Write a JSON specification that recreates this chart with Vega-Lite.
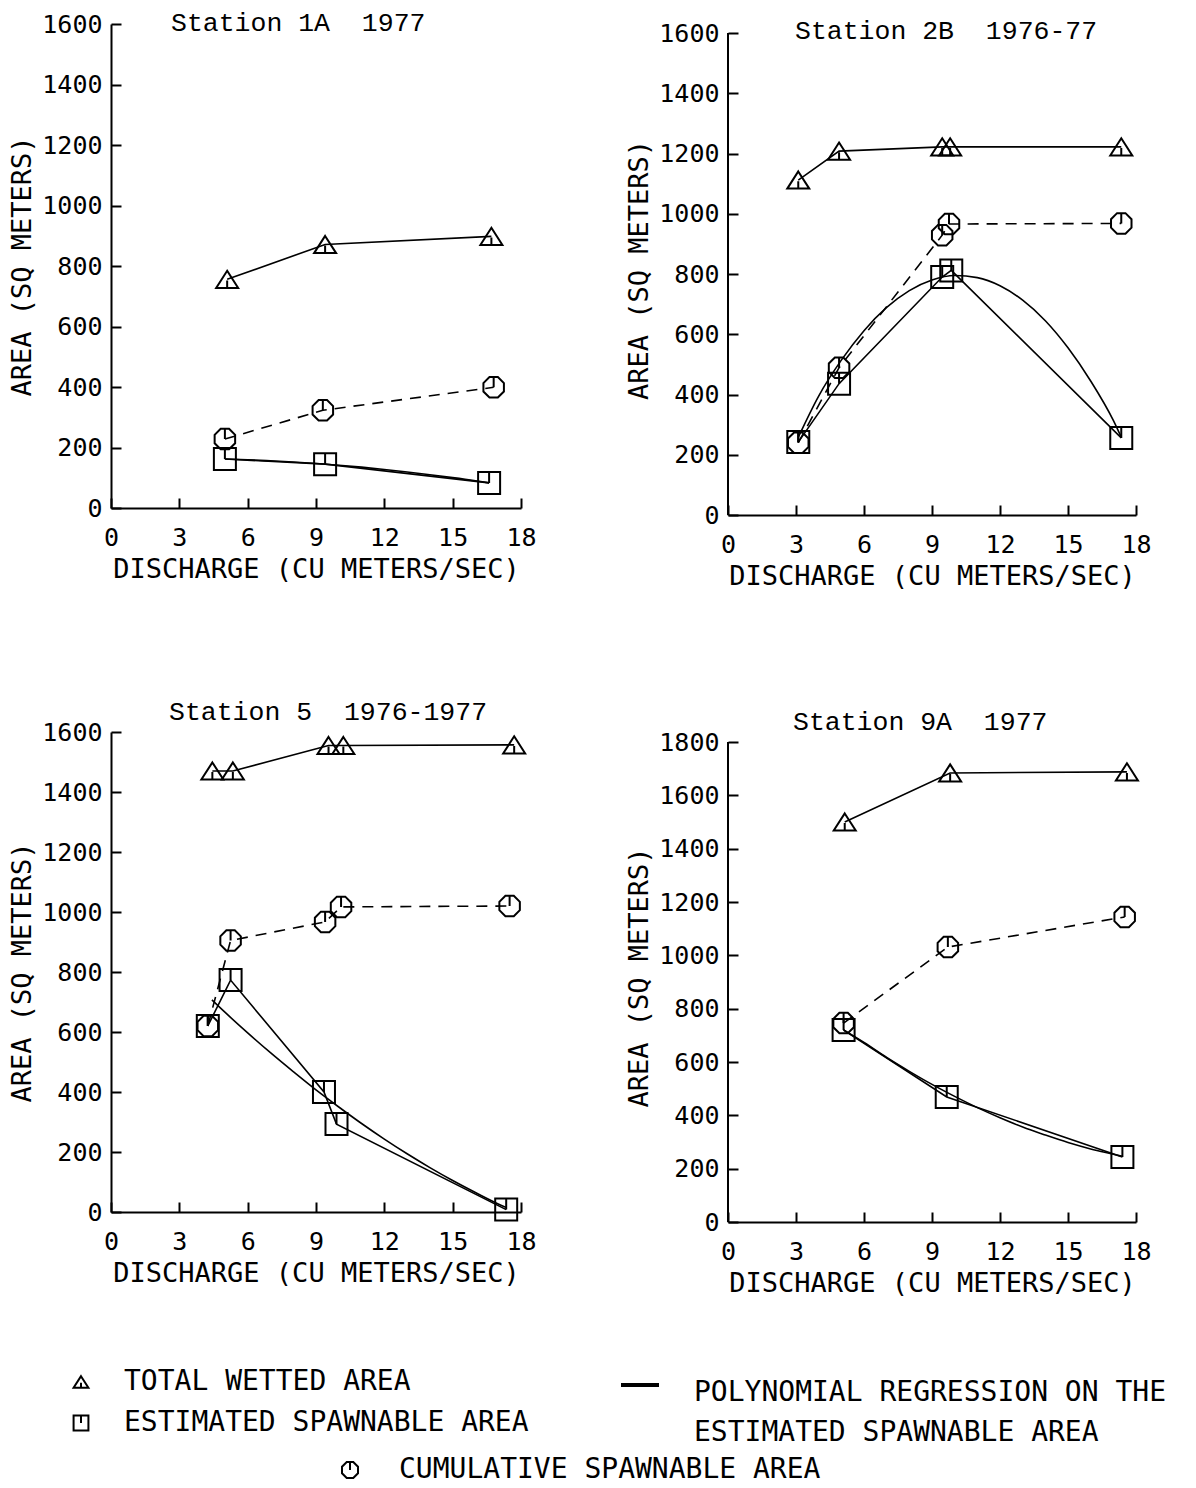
{
  "$schema": "https://vega.github.io/schema/vega-lite/v6.json",
  "padding": {"left": 8, "top": 9, "right": 5, "bottom": 4},
  "background": "white",
  "datasets": {
    "d": [
      {"p": "1A", "s": "TOTAL WETTED AREA", "x": 5.1, "y": 756},
      {"p": "1A", "s": "TOTAL WETTED AREA", "x": 9.4, "y": 871},
      {"p": "1A", "s": "TOTAL WETTED AREA", "x": 16.7, "y": 898},
      {"p": "1A", "s": "CUMULATIVE SPAWNABLE AREA", "x": 5.0, "y": 228},
      {"p": "1A", "s": "CUMULATIVE SPAWNABLE AREA", "x": 9.3, "y": 323},
      {"p": "1A", "s": "CUMULATIVE SPAWNABLE AREA", "x": 16.8, "y": 399},
      {"p": "1A", "s": "ESTIMATED SPAWNABLE AREA", "x": 5.0, "y": 162},
      {"p": "1A", "s": "ESTIMATED SPAWNABLE AREA", "x": 9.4, "y": 145},
      {"p": "1A", "s": "ESTIMATED SPAWNABLE AREA", "x": 16.6, "y": 83},
      {"p": "1A", "s": "POLYNOMIAL REGRESSION ON THE ESTIMATED SPAWNABLE AREA", "x": 5.0, "y": 162},
      {"p": "1A", "s": "POLYNOMIAL REGRESSION ON THE ESTIMATED SPAWNABLE AREA", "x": 6, "y": 159.5},
      {"p": "1A", "s": "POLYNOMIAL REGRESSION ON THE ESTIMATED SPAWNABLE AREA", "x": 7, "y": 156},
      {"p": "1A", "s": "POLYNOMIAL REGRESSION ON THE ESTIMATED SPAWNABLE AREA", "x": 8, "y": 152},
      {"p": "1A", "s": "POLYNOMIAL REGRESSION ON THE ESTIMATED SPAWNABLE AREA", "x": 9, "y": 147},
      {"p": "1A", "s": "POLYNOMIAL REGRESSION ON THE ESTIMATED SPAWNABLE AREA", "x": 10, "y": 141.5},
      {"p": "1A", "s": "POLYNOMIAL REGRESSION ON THE ESTIMATED SPAWNABLE AREA", "x": 11, "y": 135},
      {"p": "1A", "s": "POLYNOMIAL REGRESSION ON THE ESTIMATED SPAWNABLE AREA", "x": 12, "y": 127.5},
      {"p": "1A", "s": "POLYNOMIAL REGRESSION ON THE ESTIMATED SPAWNABLE AREA", "x": 13, "y": 119},
      {"p": "1A", "s": "POLYNOMIAL REGRESSION ON THE ESTIMATED SPAWNABLE AREA", "x": 14, "y": 110},
      {"p": "1A", "s": "POLYNOMIAL REGRESSION ON THE ESTIMATED SPAWNABLE AREA", "x": 15, "y": 100.5},
      {"p": "1A", "s": "POLYNOMIAL REGRESSION ON THE ESTIMATED SPAWNABLE AREA", "x": 16, "y": 90},
      {"p": "1A", "s": "POLYNOMIAL REGRESSION ON THE ESTIMATED SPAWNABLE AREA", "x": 16.6, "y": 83},

      {"p": "2B", "s": "TOTAL WETTED AREA", "x": 3.1, "y": 1112},
      {"p": "2B", "s": "TOTAL WETTED AREA", "x": 4.9, "y": 1208},
      {"p": "2B", "s": "TOTAL WETTED AREA", "x": 9.45, "y": 1222},
      {"p": "2B", "s": "TOTAL WETTED AREA", "x": 9.8, "y": 1222},
      {"p": "2B", "s": "TOTAL WETTED AREA", "x": 17.35, "y": 1222},
      {"p": "2B", "s": "CUMULATIVE SPAWNABLE AREA", "x": 3.1, "y": 240},
      {"p": "2B", "s": "CUMULATIVE SPAWNABLE AREA", "x": 4.9, "y": 489},
      {"p": "2B", "s": "CUMULATIVE SPAWNABLE AREA", "x": 9.45, "y": 929},
      {"p": "2B", "s": "CUMULATIVE SPAWNABLE AREA", "x": 9.75, "y": 966},
      {"p": "2B", "s": "CUMULATIVE SPAWNABLE AREA", "x": 17.35, "y": 968},
      {"p": "2B", "s": "ESTIMATED SPAWNABLE AREA", "x": 3.1, "y": 242},
      {"p": "2B", "s": "ESTIMATED SPAWNABLE AREA", "x": 4.9, "y": 436},
      {"p": "2B", "s": "ESTIMATED SPAWNABLE AREA", "x": 9.45, "y": 790},
      {"p": "2B", "s": "ESTIMATED SPAWNABLE AREA", "x": 9.85, "y": 812},
      {"p": "2B", "s": "ESTIMATED SPAWNABLE AREA", "x": 17.35, "y": 256},
      {"p": "2B", "s": "POLYNOMIAL REGRESSION ON THE ESTIMATED SPAWNABLE AREA", "x": 3.1, "y": 258},
      {"p": "2B", "s": "POLYNOMIAL REGRESSION ON THE ESTIMATED SPAWNABLE AREA", "x": 4, "y": 395},
      {"p": "2B", "s": "POLYNOMIAL REGRESSION ON THE ESTIMATED SPAWNABLE AREA", "x": 5, "y": 514},
      {"p": "2B", "s": "POLYNOMIAL REGRESSION ON THE ESTIMATED SPAWNABLE AREA", "x": 6, "y": 612},
      {"p": "2B", "s": "POLYNOMIAL REGRESSION ON THE ESTIMATED SPAWNABLE AREA", "x": 7, "y": 689},
      {"p": "2B", "s": "POLYNOMIAL REGRESSION ON THE ESTIMATED SPAWNABLE AREA", "x": 8, "y": 745},
      {"p": "2B", "s": "POLYNOMIAL REGRESSION ON THE ESTIMATED SPAWNABLE AREA", "x": 9, "y": 780},
      {"p": "2B", "s": "POLYNOMIAL REGRESSION ON THE ESTIMATED SPAWNABLE AREA", "x": 10, "y": 795},
      {"p": "2B", "s": "POLYNOMIAL REGRESSION ON THE ESTIMATED SPAWNABLE AREA", "x": 11, "y": 788},
      {"p": "2B", "s": "POLYNOMIAL REGRESSION ON THE ESTIMATED SPAWNABLE AREA", "x": 12, "y": 761},
      {"p": "2B", "s": "POLYNOMIAL REGRESSION ON THE ESTIMATED SPAWNABLE AREA", "x": 13, "y": 713},
      {"p": "2B", "s": "POLYNOMIAL REGRESSION ON THE ESTIMATED SPAWNABLE AREA", "x": 14, "y": 645},
      {"p": "2B", "s": "POLYNOMIAL REGRESSION ON THE ESTIMATED SPAWNABLE AREA", "x": 15, "y": 555},
      {"p": "2B", "s": "POLYNOMIAL REGRESSION ON THE ESTIMATED SPAWNABLE AREA", "x": 16, "y": 445},
      {"p": "2B", "s": "POLYNOMIAL REGRESSION ON THE ESTIMATED SPAWNABLE AREA", "x": 17, "y": 314},
      {"p": "2B", "s": "POLYNOMIAL REGRESSION ON THE ESTIMATED SPAWNABLE AREA", "x": 17.35, "y": 258},

      {"p": "5", "s": "TOTAL WETTED AREA", "x": 4.45, "y": 1470},
      {"p": "5", "s": "TOTAL WETTED AREA", "x": 5.35, "y": 1470},
      {"p": "5", "s": "TOTAL WETTED AREA", "x": 9.55, "y": 1555},
      {"p": "5", "s": "TOTAL WETTED AREA", "x": 10.2, "y": 1555},
      {"p": "5", "s": "TOTAL WETTED AREA", "x": 17.7, "y": 1557},
      {"p": "5", "s": "CUMULATIVE SPAWNABLE AREA", "x": 4.25, "y": 620},
      {"p": "5", "s": "CUMULATIVE SPAWNABLE AREA", "x": 5.25, "y": 905},
      {"p": "5", "s": "CUMULATIVE SPAWNABLE AREA", "x": 9.4, "y": 967},
      {"p": "5", "s": "CUMULATIVE SPAWNABLE AREA", "x": 10.1, "y": 1017},
      {"p": "5", "s": "CUMULATIVE SPAWNABLE AREA", "x": 17.5, "y": 1020},
      {"p": "5", "s": "ESTIMATED SPAWNABLE AREA", "x": 4.25, "y": 620},
      {"p": "5", "s": "ESTIMATED SPAWNABLE AREA", "x": 5.25, "y": 773},
      {"p": "5", "s": "ESTIMATED SPAWNABLE AREA", "x": 9.35, "y": 400},
      {"p": "5", "s": "ESTIMATED SPAWNABLE AREA", "x": 9.9, "y": 293},
      {"p": "5", "s": "ESTIMATED SPAWNABLE AREA", "x": 17.35, "y": 8},
      {"p": "5", "s": "POLYNOMIAL REGRESSION ON THE ESTIMATED SPAWNABLE AREA", "x": 4.43, "y": 707},
      {"p": "5", "s": "POLYNOMIAL REGRESSION ON THE ESTIMATED SPAWNABLE AREA", "x": 5, "y": 666},
      {"p": "5", "s": "POLYNOMIAL REGRESSION ON THE ESTIMATED SPAWNABLE AREA", "x": 6, "y": 597},
      {"p": "5", "s": "POLYNOMIAL REGRESSION ON THE ESTIMATED SPAWNABLE AREA", "x": 7, "y": 531},
      {"p": "5", "s": "POLYNOMIAL REGRESSION ON THE ESTIMATED SPAWNABLE AREA", "x": 8, "y": 468},
      {"p": "5", "s": "POLYNOMIAL REGRESSION ON THE ESTIMATED SPAWNABLE AREA", "x": 9, "y": 407},
      {"p": "5", "s": "POLYNOMIAL REGRESSION ON THE ESTIMATED SPAWNABLE AREA", "x": 10, "y": 350},
      {"p": "5", "s": "POLYNOMIAL REGRESSION ON THE ESTIMATED SPAWNABLE AREA", "x": 11, "y": 295},
      {"p": "5", "s": "POLYNOMIAL REGRESSION ON THE ESTIMATED SPAWNABLE AREA", "x": 12, "y": 243},
      {"p": "5", "s": "POLYNOMIAL REGRESSION ON THE ESTIMATED SPAWNABLE AREA", "x": 13, "y": 194},
      {"p": "5", "s": "POLYNOMIAL REGRESSION ON THE ESTIMATED SPAWNABLE AREA", "x": 14, "y": 148},
      {"p": "5", "s": "POLYNOMIAL REGRESSION ON THE ESTIMATED SPAWNABLE AREA", "x": 15, "y": 105},
      {"p": "5", "s": "POLYNOMIAL REGRESSION ON THE ESTIMATED SPAWNABLE AREA", "x": 16, "y": 65},
      {"p": "5", "s": "POLYNOMIAL REGRESSION ON THE ESTIMATED SPAWNABLE AREA", "x": 17, "y": 27},
      {"p": "5", "s": "POLYNOMIAL REGRESSION ON THE ESTIMATED SPAWNABLE AREA", "x": 17.35, "y": 15},

      {"p": "9A", "s": "TOTAL WETTED AREA", "x": 5.15, "y": 1500},
      {"p": "9A", "s": "TOTAL WETTED AREA", "x": 9.8, "y": 1684},
      {"p": "9A", "s": "TOTAL WETTED AREA", "x": 17.6, "y": 1688},
      {"p": "9A", "s": "CUMULATIVE SPAWNABLE AREA", "x": 5.1, "y": 746},
      {"p": "9A", "s": "CUMULATIVE SPAWNABLE AREA", "x": 9.7, "y": 1031},
      {"p": "9A", "s": "CUMULATIVE SPAWNABLE AREA", "x": 17.5, "y": 1144},
      {"p": "9A", "s": "ESTIMATED SPAWNABLE AREA", "x": 5.1, "y": 720},
      {"p": "9A", "s": "ESTIMATED SPAWNABLE AREA", "x": 9.65, "y": 469},
      {"p": "9A", "s": "ESTIMATED SPAWNABLE AREA", "x": 17.4, "y": 244},
      {"p": "9A", "s": "POLYNOMIAL REGRESSION ON THE ESTIMATED SPAWNABLE AREA", "x": 5.1, "y": 720},
      {"p": "9A", "s": "POLYNOMIAL REGRESSION ON THE ESTIMATED SPAWNABLE AREA", "x": 6, "y": 673},
      {"p": "9A", "s": "POLYNOMIAL REGRESSION ON THE ESTIMATED SPAWNABLE AREA", "x": 7, "y": 617},
      {"p": "9A", "s": "POLYNOMIAL REGRESSION ON THE ESTIMATED SPAWNABLE AREA", "x": 8, "y": 565},
      {"p": "9A", "s": "POLYNOMIAL REGRESSION ON THE ESTIMATED SPAWNABLE AREA", "x": 9, "y": 516},
      {"p": "9A", "s": "POLYNOMIAL REGRESSION ON THE ESTIMATED SPAWNABLE AREA", "x": 10, "y": 471},
      {"p": "9A", "s": "POLYNOMIAL REGRESSION ON THE ESTIMATED SPAWNABLE AREA", "x": 11, "y": 429},
      {"p": "9A", "s": "POLYNOMIAL REGRESSION ON THE ESTIMATED SPAWNABLE AREA", "x": 12, "y": 391},
      {"p": "9A", "s": "POLYNOMIAL REGRESSION ON THE ESTIMATED SPAWNABLE AREA", "x": 13, "y": 356},
      {"p": "9A", "s": "POLYNOMIAL REGRESSION ON THE ESTIMATED SPAWNABLE AREA", "x": 14, "y": 326},
      {"p": "9A", "s": "POLYNOMIAL REGRESSION ON THE ESTIMATED SPAWNABLE AREA", "x": 15, "y": 298},
      {"p": "9A", "s": "POLYNOMIAL REGRESSION ON THE ESTIMATED SPAWNABLE AREA", "x": 16, "y": 274},
      {"p": "9A", "s": "POLYNOMIAL REGRESSION ON THE ESTIMATED SPAWNABLE AREA", "x": 17, "y": 254},
      {"p": "9A", "s": "POLYNOMIAL REGRESSION ON THE ESTIMATED SPAWNABLE AREA", "x": 17.4, "y": 246}
    ]
  },
  "data": {"name": "d"},
  "columns": 2,
  "spacing": {"row": 217, "column": 207},
  "bounds": "flush",
  "concat": [
    {
      "width": 410, "height": 484,
      "title": {"text": "Station 1A\u00a0 1977", "dx": 60, "offset": -24},
      "transform": [{"filter": "datum.p === '1A'"}],
      "encoding": {
        "x": {"field": "x", "type": "quantitative", "scale": {"domain": [0, 18], "nice": false, "zero": false}, "axis": {"values": [0, 3, 6, 9, 12, 15, 18], "title": "DISCHARGE (CU METERS/SEC)"}},
        "y": {"field": "y", "type": "quantitative", "scale": {"domain": [0, 1600], "nice": false}, "axis": {"values": [0, 200, 400, 600, 800, 1000, 1200, 1400, 1600], "title": "AREA (SQ METERS)"}}
      },
      "layer": [
        {"transform": [{"filter": "datum.s === 'TOTAL WETTED AREA'"}], "mark": {"type": "line", "color": "black", "strokeWidth": 1.6}},
        {"transform": [{"filter": "datum.s === 'ESTIMATED SPAWNABLE AREA'"}], "mark": {"type": "line", "color": "black", "strokeWidth": 1.6}},
        {"transform": [{"filter": "datum.s === 'CUMULATIVE SPAWNABLE AREA'"}], "mark": {"type": "line", "color": "black", "strokeWidth": 1.6, "strokeDash": [11, 8]}},
        {"transform": [{"filter": "datum.s === 'POLYNOMIAL REGRESSION ON THE ESTIMATED SPAWNABLE AREA'"}], "mark": {"type": "line", "strokeWidth": 1.6, "interpolate": "monotone"},
         "encoding": {"color": {"field": "s", "type": "nominal", "scale": {"domain": ["POLYNOMIAL REGRESSION ON THE ESTIMATED SPAWNABLE AREA"], "range": ["black"]},
           "legend": {"orient": "none", "legendX": 508, "legendY": 1340, "title": null, "symbolType": "stroke", "symbolSize": 1444, "symbolStrokeWidth": 4, "symbolStrokeColor": "black", "labelOffset": 33, "labelBaseline": "top",
             "labelExpr": "['POLYNOMIAL REGRESSION ON THE', 'ESTIMATED SPAWNABLE AREA']",
             "encode": {"labels": {"update": {"lineHeight": {"value": 40}, "dy": {"value": -6}}}}}}}},
        {"transform": [{"filter": "datum.s === 'TOTAL WETTED AREA' || datum.s === 'ESTIMATED SPAWNABLE AREA'"}], "mark": {"type": "point", "filled": false, "color": "black", "strokeWidth": 2, "size": 484, "opacity": 1},
         "encoding": {"shape": {"field": "s", "type": "nominal", "scale": {"domain": ["TOTAL WETTED AREA", "ESTIMATED SPAWNABLE AREA"], "range": ["M0,-0.78L1,0.78L-1,0.78Z M0,0.78L0,0.1", "M-1,-1L1,-1L1,1L-1,1Z M0,-1L0,0"]},
           "legend": {"orient": "none", "legendX": -44, "legendY": 1344, "title": null, "symbolSize": 220, "symbolStrokeWidth": 2, "symbolStrokeColor": "black", "symbolFillColor": "transparent", "labelOffset": 29, "rowPadding": 13}}}},
        {"transform": [{"filter": "datum.s === 'CUMULATIVE SPAWNABLE AREA'"}], "mark": {"type": "point", "filled": false, "shape": "M-0.41,-1L0.41,-1L1,-0.41L1,0.41L0.41,1L-0.41,1L-1,0.41L-1,-0.41Z M0,-1L0,0", "strokeWidth": 2, "size": 420, "opacity": 1},
         "encoding": {"stroke": {"field": "s", "type": "nominal", "scale": {"domain": ["CUMULATIVE SPAWNABLE AREA"], "range": ["black"]},
           "legend": {"orient": "none", "legendX": 225, "legendY": 1432, "title": null, "symbolType": "M-0.41,-1L0.41,-1L1,-0.41L1,0.41L0.41,1L-0.41,1L-1,0.41L-1,-0.41Z M0,-1L0,0", "symbolSize": 256, "symbolStrokeWidth": 2, "symbolStrokeColor": "black", "symbolFillColor": "transparent", "labelOffset": 35}}}}
      ]
    },
    {
      "width": 408, "height": 491,
      "title": {"text": "Station 2B\u00a0 1976-77", "dx": 67, "offset": -23},
      "transform": [{"filter": "datum.p === '2B'"}],
      "encoding": {
        "x": {"field": "x", "type": "quantitative", "scale": {"domain": [0, 18], "nice": false, "zero": false}, "axis": {"values": [0, 3, 6, 9, 12, 15, 18], "title": "DISCHARGE (CU METERS/SEC)"}},
        "y": {"field": "y", "type": "quantitative", "scale": {"domain": [0, 1630], "nice": false}, "axis": {"values": [0, 200, 400, 600, 800, 1000, 1200, 1400, 1600], "title": "AREA (SQ METERS)", "domain": false}}
      },
      "layer": [
        {"transform": [{"filter": "datum.s === 'TOTAL WETTED AREA' && datum.x === 3.1"}], "mark": {"type": "rule", "color": "black", "strokeWidth": 2}, "encoding": {"x": {"datum": 0, "type": "quantitative"}, "y": {"datum": 0, "type": "quantitative"}, "y2": {"datum": 1600}}},
        {"transform": [{"filter": "datum.s === 'TOTAL WETTED AREA'"}], "mark": {"type": "line", "color": "black", "strokeWidth": 1.6}},
        {"transform": [{"filter": "datum.s === 'ESTIMATED SPAWNABLE AREA'"}], "mark": {"type": "line", "color": "black", "strokeWidth": 1.6}},
        {"transform": [{"filter": "datum.s === 'CUMULATIVE SPAWNABLE AREA'"}], "mark": {"type": "line", "color": "black", "strokeWidth": 1.6, "strokeDash": [11, 8]}},
        {"transform": [{"filter": "datum.s === 'POLYNOMIAL REGRESSION ON THE ESTIMATED SPAWNABLE AREA'"}], "mark": {"type": "line", "strokeWidth": 1.6, "interpolate": "monotone"},
         "encoding": {"color": {"field": "s", "type": "nominal", "scale": {"domain": ["POLYNOMIAL REGRESSION ON THE ESTIMATED SPAWNABLE AREA"], "range": ["black"]}}}},
        {"transform": [{"filter": "datum.s === 'TOTAL WETTED AREA' || datum.s === 'ESTIMATED SPAWNABLE AREA'"}], "mark": {"type": "point", "filled": false, "color": "black", "strokeWidth": 2, "size": 484, "opacity": 1},
         "encoding": {"shape": {"field": "s", "type": "nominal", "scale": {"domain": ["TOTAL WETTED AREA", "ESTIMATED SPAWNABLE AREA"], "range": ["M0,-0.78L1,0.78L-1,0.78Z M0,0.78L0,0.1", "M-1,-1L1,-1L1,1L-1,1Z M0,-1L0,0"]}}}},
        {"transform": [{"filter": "datum.s === 'CUMULATIVE SPAWNABLE AREA'"}], "mark": {"type": "point", "filled": false, "shape": "M-0.41,-1L0.41,-1L1,-0.41L1,0.41L0.41,1L-0.41,1L-1,0.41L-1,-0.41Z M0,-1L0,0", "strokeWidth": 2, "size": 420, "opacity": 1},
         "encoding": {"stroke": {"field": "s", "type": "nominal", "scale": {"domain": ["CUMULATIVE SPAWNABLE AREA"], "range": ["black"]}}}}
      ]
    },
    {
      "width": 410, "height": 480,
      "title": {"text": "Station 5\u00a0 1976-1977", "dx": 58, "offset": -5},
      "transform": [{"filter": "datum.p === '5'"}],
      "encoding": {
        "x": {"field": "x", "type": "quantitative", "scale": {"domain": [0, 18], "nice": false, "zero": false}, "axis": {"values": [0, 3, 6, 9, 12, 15, 18], "title": "DISCHARGE (CU METERS/SEC)"}},
        "y": {"field": "y", "type": "quantitative", "scale": {"domain": [0, 1600], "nice": false}, "axis": {"values": [0, 200, 400, 600, 800, 1000, 1200, 1400, 1600], "title": "AREA (SQ METERS)"}}
      },
      "layer": [
        {"transform": [{"filter": "datum.s === 'TOTAL WETTED AREA'"}], "mark": {"type": "line", "color": "black", "strokeWidth": 1.6}},
        {"transform": [{"filter": "datum.s === 'ESTIMATED SPAWNABLE AREA'"}], "mark": {"type": "line", "color": "black", "strokeWidth": 1.6}},
        {"transform": [{"filter": "datum.s === 'CUMULATIVE SPAWNABLE AREA'"}], "mark": {"type": "line", "color": "black", "strokeWidth": 1.6, "strokeDash": [11, 8]}},
        {"transform": [{"filter": "datum.s === 'POLYNOMIAL REGRESSION ON THE ESTIMATED SPAWNABLE AREA'"}], "mark": {"type": "line", "strokeWidth": 1.6, "interpolate": "monotone"},
         "encoding": {"color": {"field": "s", "type": "nominal", "scale": {"domain": ["POLYNOMIAL REGRESSION ON THE ESTIMATED SPAWNABLE AREA"], "range": ["black"]}}}},
        {"transform": [{"filter": "datum.s === 'TOTAL WETTED AREA' || datum.s === 'ESTIMATED SPAWNABLE AREA'"}], "mark": {"type": "point", "filled": false, "color": "black", "strokeWidth": 2, "size": 484, "opacity": 1},
         "encoding": {"shape": {"field": "s", "type": "nominal", "scale": {"domain": ["TOTAL WETTED AREA", "ESTIMATED SPAWNABLE AREA"], "range": ["M0,-0.78L1,0.78L-1,0.78Z M0,0.78L0,0.1", "M-1,-1L1,-1L1,1L-1,1Z M0,-1L0,0"]}}}},
        {"transform": [{"filter": "datum.s === 'CUMULATIVE SPAWNABLE AREA'"}], "mark": {"type": "point", "filled": false, "shape": "M-0.41,-1L0.41,-1L1,-0.41L1,0.41L0.41,1L-0.41,1L-1,0.41L-1,-0.41Z M0,-1L0,0", "strokeWidth": 2, "size": 420, "opacity": 1},
         "encoding": {"stroke": {"field": "s", "type": "nominal", "scale": {"domain": ["CUMULATIVE SPAWNABLE AREA"], "range": ["black"]}}}}
      ]
    },
    {
      "width": 408, "height": 490,
      "title": {"text": "Station 9A\u00a0 1977", "dx": 65, "offset": -5},
      "transform": [{"filter": "datum.p === '9A'"}],
      "encoding": {
        "x": {"field": "x", "type": "quantitative", "scale": {"domain": [0, 18], "nice": false, "zero": false}, "axis": {"values": [0, 3, 6, 9, 12, 15, 18], "title": "DISCHARGE (CU METERS/SEC)"}},
        "y": {"field": "y", "type": "quantitative", "scale": {"domain": [0, 1837.5], "nice": false}, "axis": {"values": [0, 200, 400, 600, 800, 1000, 1200, 1400, 1600, 1800], "title": "AREA (SQ METERS)", "domain": false}}
      },
      "layer": [
        {"transform": [{"filter": "datum.s === 'TOTAL WETTED AREA' && datum.x === 5.15"}], "mark": {"type": "rule", "color": "black", "strokeWidth": 2}, "encoding": {"x": {"datum": 0, "type": "quantitative"}, "y": {"datum": 0, "type": "quantitative"}, "y2": {"datum": 1800}}},
        {"transform": [{"filter": "datum.s === 'TOTAL WETTED AREA'"}], "mark": {"type": "line", "color": "black", "strokeWidth": 1.6}},
        {"transform": [{"filter": "datum.s === 'ESTIMATED SPAWNABLE AREA'"}], "mark": {"type": "line", "color": "black", "strokeWidth": 1.6}},
        {"transform": [{"filter": "datum.s === 'CUMULATIVE SPAWNABLE AREA'"}], "mark": {"type": "line", "color": "black", "strokeWidth": 1.6, "strokeDash": [11, 8]}},
        {"transform": [{"filter": "datum.s === 'POLYNOMIAL REGRESSION ON THE ESTIMATED SPAWNABLE AREA'"}], "mark": {"type": "line", "strokeWidth": 1.6, "interpolate": "monotone"},
         "encoding": {"color": {"field": "s", "type": "nominal", "scale": {"domain": ["POLYNOMIAL REGRESSION ON THE ESTIMATED SPAWNABLE AREA"], "range": ["black"]}}}},
        {"transform": [{"filter": "datum.s === 'TOTAL WETTED AREA' || datum.s === 'ESTIMATED SPAWNABLE AREA'"}], "mark": {"type": "point", "filled": false, "color": "black", "strokeWidth": 2, "size": 484, "opacity": 1},
         "encoding": {"shape": {"field": "s", "type": "nominal", "scale": {"domain": ["TOTAL WETTED AREA", "ESTIMATED SPAWNABLE AREA"], "range": ["M0,-0.78L1,0.78L-1,0.78Z M0,0.78L0,0.1", "M-1,-1L1,-1L1,1L-1,1Z M0,-1L0,0"]}}}},
        {"transform": [{"filter": "datum.s === 'CUMULATIVE SPAWNABLE AREA'"}], "mark": {"type": "point", "filled": false, "shape": "M-0.41,-1L0.41,-1L1,-0.41L1,0.41L0.41,1L-0.41,1L-1,0.41L-1,-0.41Z M0,-1L0,0", "strokeWidth": 2, "size": 420, "opacity": 1},
         "encoding": {"stroke": {"field": "s", "type": "nominal", "scale": {"domain": ["CUMULATIVE SPAWNABLE AREA"], "range": ["black"]}}}}
      ]
    }
  ],
  "config": {
    "view": {"stroke": null},
    "font": "DejaVu Sans Mono",
    "numberFormat": "d",
    "axis": {
      "domainColor": "black", "domainWidth": 2, "tickColor": "black", "tickWidth": 2, "tickSize": -10,
      "labelFont": "DejaVu Sans Mono", "labelFontSize": 25, "labelColor": "black",
      "titleFont": "DejaVu Sans Mono", "titleFontSize": 27, "titleFontWeight": "normal", "titleColor": "black",
      "grid": false, "labelFlush": false, "labelOverlap": false
    },
    "axisX": {"labelPadding": 27, "titlePadding": 6},
    "axisY": {"labelPadding": 19, "titlePadding": 5},
    "title": {"font": "Liberation Mono", "fontSize": 26.5, "fontWeight": "normal", "color": "black", "anchor": "start", "frame": "group", "baseline": "middle"},
    "legend": {"labelFont": "DejaVu Sans Mono", "labelFontSize": 28, "labelColor": "black", "labelLimit": 0, "padding": 0}
  }
}
